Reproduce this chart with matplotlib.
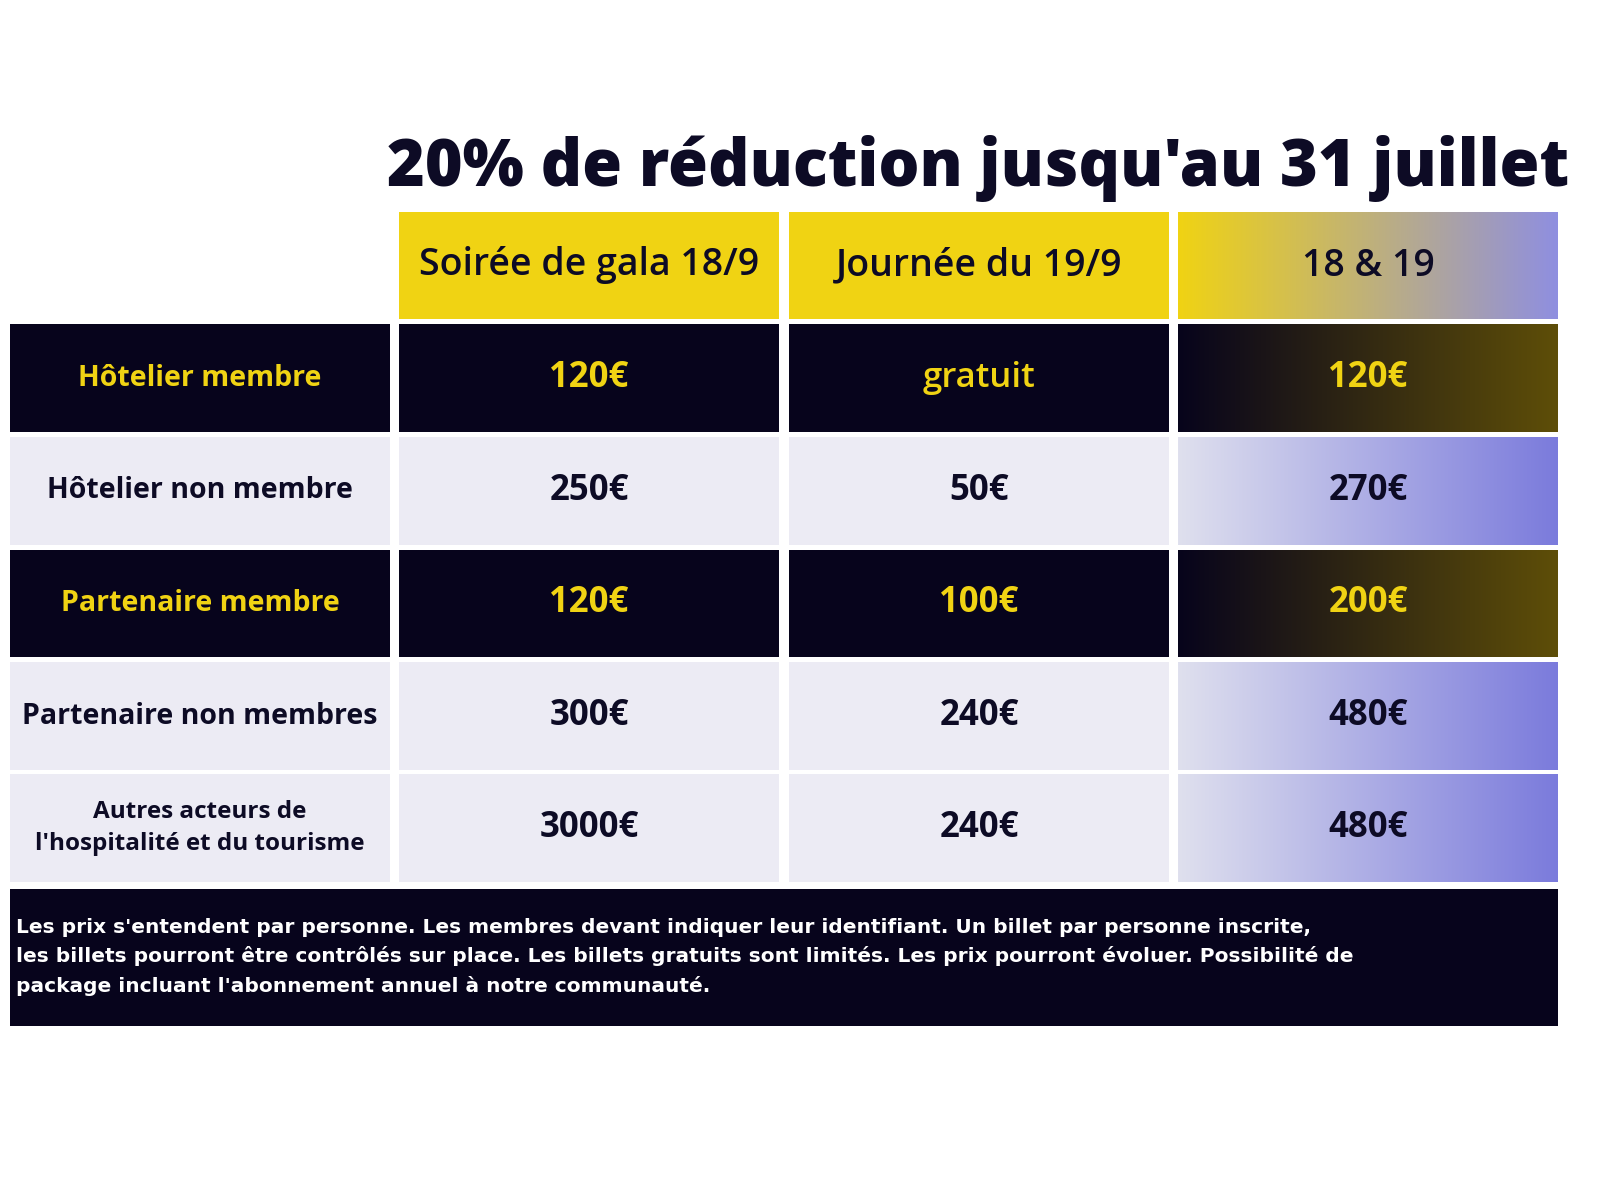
import matplotlib.pyplot as plt
import numpy as np
from matplotlib.colors import LinearSegmentedColormap

title = "20% de réduction jusqu'au 31 juillet"
headers = ["Soirée de gala 18/9", "Journée du 19/9", "18 & 19"]
row_labels = ["Hôtelier membre", "Hôtelier non membre", "Partenaire membre",
              "Partenaire non membres", "Autres acteurs de\nl'hospitalité et du tourisme"]
gala = ["120€", "250€", "120€", "300€", "3000€"]
journee = ["gratuit", "50€", "100€", "240€", "240€"]
both = ["120€", "270€", "200€", "480€", "480€"]
dark_rows = [True, False, True, False, False]
footer = ("Les prix s'entendent par personne. Les membres devant indiquer leur identifiant. Un billet par personne inscrite,\n"
          "les billets pourront être contrôlés sur place. Les billets gratuits sont limités. Les prix pourront évoluer. Possibilité de\n"
          "package incluant l'abonnement annuel à notre communauté.")

NAVY = "#07041c"
YELLOW = "#f0d313"
LIGHT = "#ecebf4"
INK = "#0d0b25"
FONT = "Open Sans"

W, H = 1600, 1200
fig = plt.figure(figsize=(16, 12), dpi=100)
ax = fig.add_axes([0, 0, 1, 1])
ax.set_xlim(0, W)
ax.set_ylim(H, 0)
ax.axis("off")

col_x = [(10, 390), (399, 779), (789, 1169), (1178, 1558)]
row_y = [(324, 432), (437, 545), (550, 657), (662, 770), (774, 882)]
head_y = (212, 319)


def rect(x, y, color):
    ax.fill_between([x[0], x[1]], y[0], y[1], color=color, lw=0)


def grad(x, y, c0, c1):
    cmap = LinearSegmentedColormap.from_list("g", [c0, c1])
    ax.imshow(np.linspace(0, 1, 256)[None, :], cmap=cmap, aspect="auto",
              extent=(x[0], x[1], y[1], y[0]), zorder=1)


ax.text(978, 168, title, ha="center", va="center", fontsize=46.5,
        fontweight="black", family=FONT, color=INK)

# header row
for i, h in enumerate(headers):
    x = col_x[i + 1]
    if i == 2:
        grad(x, head_y, YELLOW, "#8f8fe0")
    else:
        rect(x, head_y, YELLOW)
    ax.text(sum(x) / 2, sum(head_y) / 2, h, ha="center", va="center",
            fontsize=27, fontweight="semibold", family=FONT, color=INK, zorder=3)

for r, y in enumerate(row_y):
    dark = dark_rows[r]
    bg = NAVY if dark else LIGHT
    fg = YELLOW if dark else INK
    cells = [row_labels[r], gala[r], journee[r], both[r]]
    for c, x in enumerate(col_x):
        if c == 3:
            if dark:
                grad(x, y, NAVY, "#5e4e08")
            else:
                grad(x, y, "#dfe0ee", "#7b7bdc")
        else:
            rect(x, y, bg)
        if c == 0:
            size = 17.5 if r == 4 else 20.5
            fam = "DejaVu Sans" if False else FONT
        else:
            size = 25
        weight = "semibold" if (c == 2 and r == 0) else "bold"
        ax.text(sum(x) / 2, sum(y) / 2, cells[c], ha="center", va="center",
                fontsize=size, fontweight=weight, family=FONT, color=fg,
                linespacing=1.5, zorder=3)

rect((10, 1558), (889, 1026), NAVY)
ax.text(16, 957, footer, ha="left", va="center", fontsize=14.5,
        fontweight="bold", family="DejaVu Sans", color="white", linespacing=1.6)

fig.savefig("out.png", dpi=100, facecolor="white")
